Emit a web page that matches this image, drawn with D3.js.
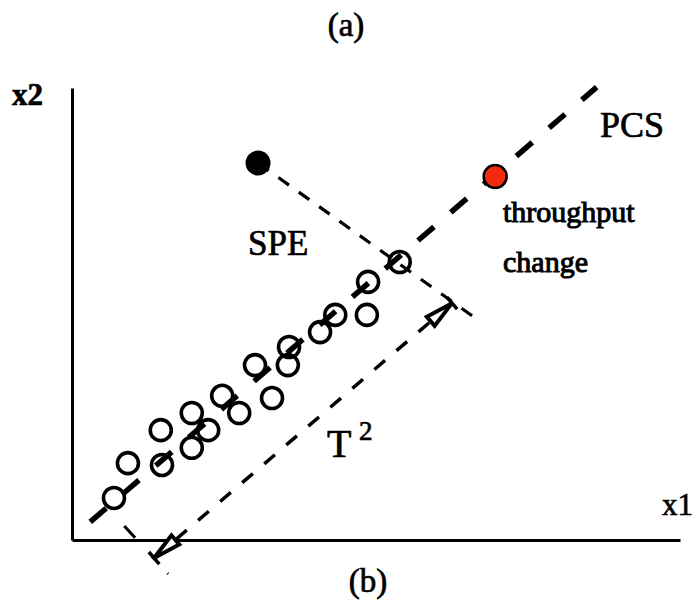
<!DOCTYPE html>
<html>
<head>
<meta charset="utf-8">
<script src="https://cdn.jsdelivr.net/npm/d3@7"></script>
<style>
  html, body { margin: 0; padding: 0; background: #fff; }
  svg { display: block; }
  text { font-family: "Liberation Serif", "Times New Roman", serif; fill: #000; stroke: #000; stroke-width: 0.7; }
</style>
</head>
<body>
<svg id="chart" width="696" height="600"></svg>
<script>
// Normal operating samples (x1, x2)
const normalX1 = [6.9, 9.2, 14.8, 14.6, 19.7, 19.7, 22.4, 24.7, 27.5, 30.1, 32.9, 35.7, 35.5, 40.8, 43.3, 48.5, 48.7, 53.9];
const normalX2 = [9.3, 17.0, 16.6, 24.3, 28.1, 20.4, 24.3, 31.9, 28.1, 38.7, 31.4, 42.7, 38.7, 46.0, 49.8, 49.8, 57.1, 61.5];

// Abnormal sample (off the principal component subspace)
const outlierPoint = [30.6, 83.4];
// Throughput change sample (along the principal component subspace)
const throughputPoint = [69.6, 80.4];

// Principal component subspace direction
const pcsLine = [[3.0, 4.0], [86.3, 100.2]];
// Residual (SPE) projection line from the outlier
const speLine = [[30.6, 83.4], [65.8, 49.6]];
// Extension line at the origin end of the T2 dimension
const originLine = [[8.6, 3.1], [15.8, -7.5]];
// T2 dimension arrow, parallel to the PCS
const t2Line = [[13.5, -4.0], [62.5, 52.4]];

const axisLabels = ["x1", "x2"];
const panelLabels = ["(a)", "(b)"];

const svg = d3.select("#chart");
const x = d3.scaleLinear().domain([0, 100]).range([72, 680]);
const y = d3.scaleLinear().domain([0, 100]).range([540, 88]);
const line = d3.line().x(d => x(d[0])).y(d => y(d[1]));

svg.append("rect").attr("width", 696).attr("height", 600).attr("fill", "#fff");

// Arrowhead: open triangle with a short stop bar at the tip
const defs = svg.append("defs");
const mk = defs.append("marker")
  .attr("id", "dimArrow")
  .attr("markerUnits", "userSpaceOnUse")
  .attr("viewBox", "-34 -10 38 20")
  .attr("refX", 0).attr("refY", 0)
  .attr("markerWidth", 38).attr("markerHeight", 20)
  .attr("orient", "auto-start-reverse");
mk.append("path")
  .attr("d", "M0,0 L-28,-6 L-28,6 Z")
  .attr("fill", "#fff").attr("stroke", "#000").attr("stroke-width", 4)
  .attr("stroke-linejoin", "miter");
mk.append("path")
  .attr("d", "M0,-8 L0,8")
  .attr("stroke", "#000").attr("stroke-width", 3.5);

// Axes: bare lines, no ticks
svg.append("g")
  .attr("transform", `translate(0,${y(0)})`)
  .call(d3.axisBottom(x).ticks(0).tickSizeOuter(0))
  .call(g => g.select(".domain").attr("stroke-width", 3));
svg.append("g")
  .attr("transform", `translate(${x(0)},0)`)
  .call(d3.axisLeft(y).ticks(0).tickSizeOuter(0))
  .call(g => g.select(".domain").attr("stroke-width", 3));

// PCS: heavy dashed line
svg.append("path")
  .attr("d", line(pcsLine))
  .attr("fill", "none").attr("stroke", "#000")
  .attr("stroke-width", 5.5)
  .attr("stroke-dasharray", "21 22.2");

// SPE projection and origin extension lines
svg.append("path")
  .attr("d", line(speLine))
  .attr("fill", "none").attr("stroke", "#000")
  .attr("stroke-width", 3.2)
  .attr("stroke-dasharray", "13 12");
svg.append("path")
  .attr("d", line(originLine))
  .attr("fill", "none").attr("stroke", "#000")
  .attr("stroke-width", 3)
  .attr("stroke-dasharray", "16 25 3 20");

// T2 dimension arrow
svg.append("path")
  .attr("d", line(t2Line))
  .attr("fill", "none").attr("stroke", "#000")
  .attr("stroke-width", 3.5)
  .attr("stroke-dasharray", "14 15")
  .attr("marker-start", "url(#dimArrow)")
  .attr("marker-end", "url(#dimArrow)");

// Normal samples: hollow circles
svg.append("g")
  .selectAll("circle")
  .data(normalX1.map((v, i) => [v, normalX2[i]]))
  .join("circle")
  .attr("cx", d => x(d[0]))
  .attr("cy", d => y(d[1]))
  .attr("r", 10.5)
  .attr("fill", "none")
  .attr("stroke", "#000")
  .attr("stroke-width", 3.6);

// Outlier and throughput-change samples
svg.append("circle")
  .attr("cx", x(outlierPoint[0])).attr("cy", y(outlierPoint[1]))
  .attr("r", 12.5).attr("fill", "#000");
svg.append("circle")
  .attr("cx", x(throughputPoint[0])).attr("cy", y(throughputPoint[1]))
  .attr("r", 11.5).attr("fill", "#f42a0c")
  .attr("stroke", "#000").attr("stroke-width", 2.5);

// Labels
svg.append("text").attr("x", 346).attr("y", 36).attr("text-anchor", "middle")
  .attr("font-size", 33).text(panelLabels[0]);
svg.append("text").attr("x", 368).attr("y", 592).attr("text-anchor", "middle")
  .attr("font-size", 33).text(panelLabels[1]);
svg.append("text").attr("x", 12).attr("y", 105)
  .attr("font-size", 31).attr("font-weight", "bold").text(axisLabels[1]);
svg.append("text").attr("x", 662).attr("y", 515)
  .attr("font-size", 31).text(axisLabels[0]);
svg.append("text").attr("x", 600).attr("y", 137)
  .attr("font-size", 36).text("PCS");
svg.append("text").attr("x", 248).attr("y", 255)
  .attr("font-size", 35).text("SPE");
svg.append("text").attr("x", 503).attr("y", 222)
  .attr("font-size", 30).style("stroke-width", 1).text("throughput");
svg.append("text").attr("x", 503).attr("y", 272)
  .attr("font-size", 30).style("stroke-width", 1).text("change");
const t2 = svg.append("text").attr("x", 327).attr("y", 457).attr("font-size", 40);
t2.append("tspan").text("T");
t2.append("tspan").attr("x", 359).attr("y", 440).attr("font-size", 27).text("2");
</script>
</body>
</html>
